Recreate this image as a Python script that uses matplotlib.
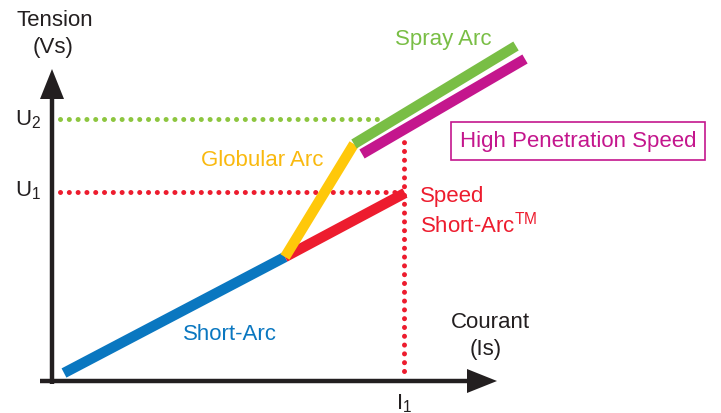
import matplotlib
matplotlib.use("Agg")
from matplotlib import pyplot as plt

plt.rcParams['font.family'] = ['Liberation Sans', 'DejaVu Sans']

# characteristic points (current, voltage), origin at the axes crossing
short_arc = [(12, 8), (233, 124)]
speed_short_arc = [(233, 124), (353, 188)]
globular_arc = [(233, 124), (302, 237)]
spray_arc = [(302, 237), (464, 335)]
high_pen = [(310, 227), (473, 322)]

U1 = 189
U2 = 262
I1 = 352

BLUE = '#0A77C0'
RED = '#ED1C2E'
YELLOW = '#FFC80A'
GREEN = '#79BE45'
MAGENTA = '#C4168D'
DARK = '#231F20'

fig = plt.figure(figsize=(7.21, 4.14), dpi=100)
ax = fig.add_axes([0, 0, 1, 1])
ax.set_xlim(-52, 669)
ax.set_ylim(-32, 382)
ax.axis('off')

# axes arrows
ax.plot([-12, 420], [0, 0], color=DARK, lw=3.2, solid_capstyle='butt')
ax.fill([415, 415, 445], [-12, 12, 0], color=DARK, lw=0)
ax.plot([0, 0], [-3, 285], color=DARK, lw=3.2, solid_capstyle='butt')
ax.fill([-12, 12, 0], [282, 282, 312], color=DARK, lw=0)

# dotted reference lines
dots = dict(lw=3.6, linestyle=(0, (0.01, 1.75)), dash_capstyle='round')
ax.plot([8, 325], [U2, U2], color='#8DC63F', **dots)
ax.plot([8, 350], [U1, U1], color=RED, **dots)
ax.plot([I1, I1], [10, 242], color=RED, **dots)

# characteristic segments
for seg, c in [(short_arc, BLUE), (speed_short_arc, RED), (globular_arc, YELLOW),
               (spray_arc, GREEN), (high_pen, MAGENTA)]:
    xs = [p[0] for p in seg]
    ys = [p[1] for p in seg]
    ax.plot(xs, ys, color=c, lw=7.5, solid_capstyle='butt')

fs = 16
ax.text(3, 362, 'Tension', ha='center', va='center', fontsize=fs, color=DARK)
ax.text(1, 335, '(Vs)', ha='center', va='center', fontsize=fs, color=DARK)
ax.text(-24, U2, r'U$_\mathregular{2}$', ha='center', va='center', fontsize=fs, color=DARK)
ax.text(-24, U1 + 2, r'U$_\mathregular{1}$', ha='center', va='center', fontsize=fs, color=DARK)
ax.text(I1, -22, r'I$_\mathregular{1}$', ha='center', va='center', fontsize=fs, color=DARK)
ax.text(438, 60, 'Courant', ha='center', va='center', fontsize=fs, color=DARK)
ax.text(434, 32, '(Is)', ha='center', va='center', fontsize=fs, color=DARK)

ax.text(391, 342, 'Spray Arc', ha='center', va='center', fontsize=fs, color=GREEN)
ax.text(210, 222, 'Globular Arc', ha='center', va='center', fontsize=fs, color='#F9B90F')
ax.text(368, 185, 'Speed', ha='left', va='center', fontsize=fs, color=RED)
ax.text(368, 157, r'Short-Arc$^\mathregular{TM}$', ha='left', va='center', fontsize=fs, color=RED)
ax.text(178, 47, 'Short-Arc', ha='center', va='center', fontsize=fs, color=BLUE)
ax.text(526, 240, 'High Penetration Speed', ha='center', va='center', fontsize=fs,
        color=MAGENTA,
        bbox=dict(boxstyle='square,pad=0.4', fc='white', ec=MAGENTA, lw=1.2))

fig.savefig('out.png', dpi=100)
